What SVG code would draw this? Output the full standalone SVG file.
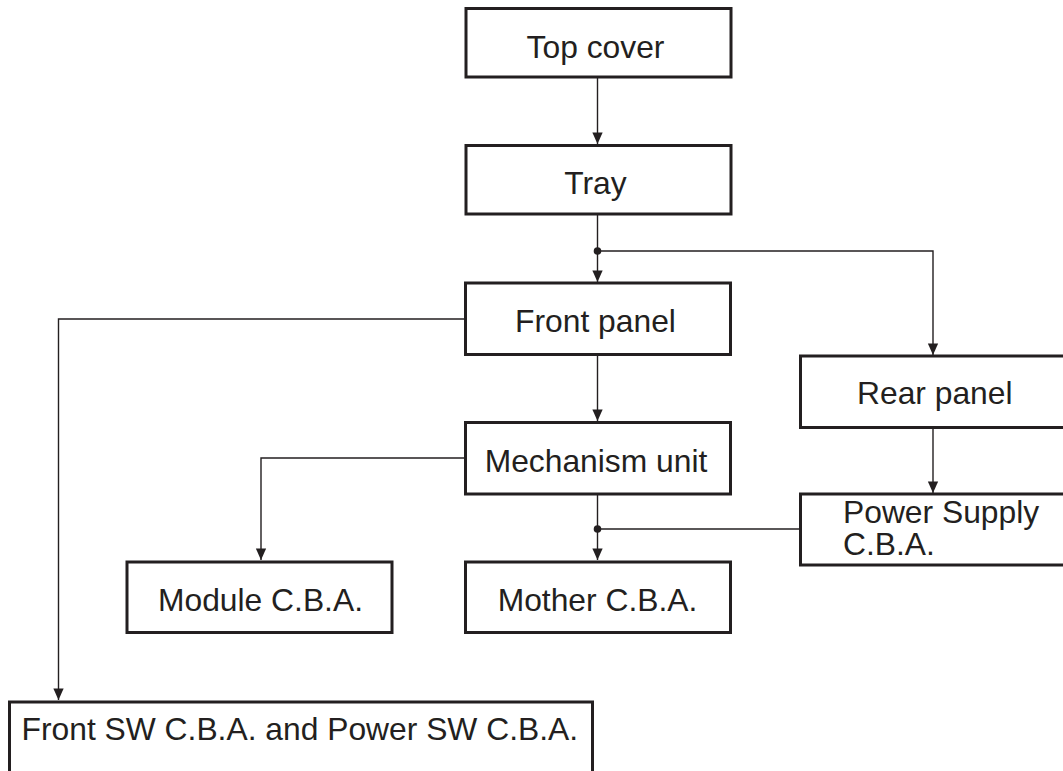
<svg xmlns="http://www.w3.org/2000/svg" width="1063" height="771" viewBox="0 0 1063 771">
<style>
.box{fill:#fff;stroke:#231f20;stroke-width:3}
.lbl{font-family:"Liberation Sans",Arial,Helvetica,sans-serif;font-size:31.8px;fill:#231f20}
.mid{text-anchor:middle}
.con{fill:none;stroke:#231f20;stroke-width:1.4}
</style>
<defs>
<marker id="ah" viewBox="0 0 10 14" refX="10" refY="7" markerWidth="12" markerHeight="16" markerUnits="userSpaceOnUse" orient="auto">
<path d="M0,2.5 L10,7 L0,11.5 z" fill="#231f20"/>
</marker>
</defs>
<rect width="1063" height="771" fill="#fff"/>
<g id="connectors">
<path class="con" d="M597.5,77 V144" marker-end="url(#ah)"/>
<path class="con" d="M597.5,214 V282" marker-end="url(#ah)"/>
<path class="con" d="M597.5,251 H933 V355" marker-end="url(#ah)"/>
<path class="con" d="M465,319 H58.5 V700" marker-end="url(#ah)"/>
<path class="con" d="M597.5,355 V421" marker-end="url(#ah)"/>
<path class="con" d="M465,458 H261 V560" marker-end="url(#ah)"/>
<path class="con" d="M597.5,494 V560" marker-end="url(#ah)"/>
<path class="con" d="M800,529 H597.5"/>
<path class="con" d="M933,428 V493" marker-end="url(#ah)"/>
<circle cx="597.5" cy="251" r="3.8" fill="#231f20"/>
<circle cx="597.5" cy="529" r="3.8" fill="#231f20"/>
</g>
<g id="top-cover">
<rect class="box" x="466" y="8.5" width="265" height="68.5"/>
<text class="lbl mid" x="595.5" y="57.5">Top cover</text>
</g>
<g id="tray">
<rect class="box" x="466" y="145.5" width="265" height="68.5"/>
<text class="lbl mid" x="595.5" y="194">Tray</text>
</g>
<g id="front-panel">
<rect class="box" x="465.5" y="283" width="265" height="71.5"/>
<text class="lbl mid" x="595.5" y="331.5">Front panel</text>
</g>
<g id="mechanism-unit">
<rect class="box" x="465.5" y="422.5" width="265" height="71.5"/>
<text class="lbl mid" x="596" y="471.5">Mechanism unit</text>
</g>
<g id="rear-panel">
<rect class="box" x="800.5" y="356" width="280" height="71.5"/>
<text class="lbl" x="857" y="404">Rear panel</text>
</g>
<g id="power-supply">
<rect class="box" x="800.5" y="494" width="280" height="71"/>
<text class="lbl" x="843" y="523">Power Supply</text>
<text class="lbl" x="843" y="555">C.B.A.</text>
</g>
<g id="module-cba">
<rect class="box" x="127" y="562" width="265" height="70.5"/>
<text class="lbl mid" x="260.5" y="610.5">Module C.B.A.</text>
</g>
<g id="mother-cba">
<rect class="box" x="465.5" y="562" width="265" height="70.5"/>
<text class="lbl mid" x="597.5" y="610.5">Mother C.B.A.</text>
</g>
<g id="front-sw-cba">
<rect class="box" x="9.5" y="702" width="583" height="100"/>
<text class="lbl" x="21.5" y="740">Front SW C.B.A. and Power SW C.B.A.</text>
</g>
</svg>
